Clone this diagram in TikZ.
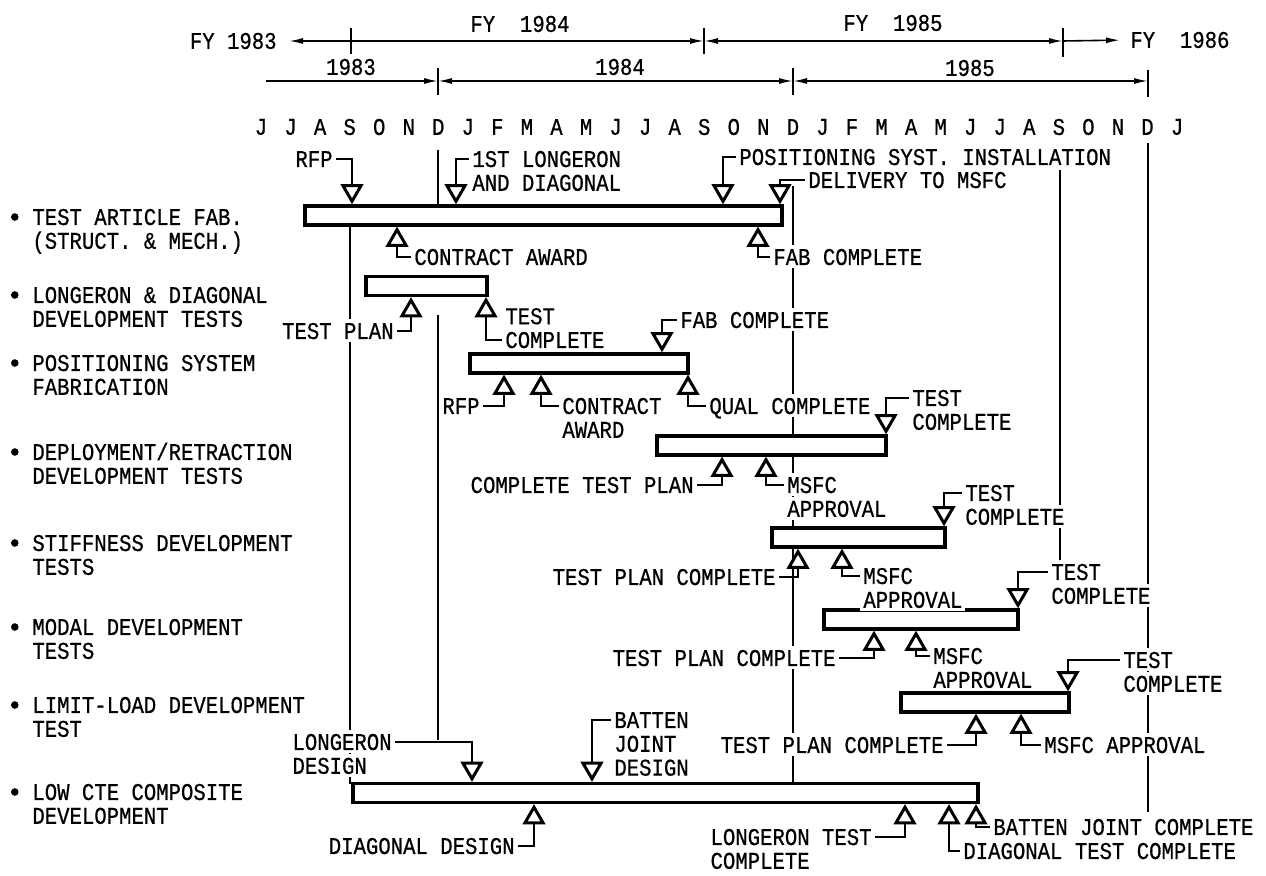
\documentclass[tikz,border=0pt]{standalone}
\usepackage{fontspec}
\setmonofont{Liberation Mono}[FakeStretch=0.86,FakeBold=0.6]
\usetikzlibrary{arrows.meta,positioning,shapes.geometric}
\colorlet{ink}{black}
\tikzset{
  >={Latex[length=7pt,width=3pt]},
  hdr/.style={draw=ink, line width=0.8pt},
  fytick/.style={draw=ink, line width=1pt},
  gridline/.style={draw=ink, line width=0.9pt},
  taskbar/.style={
    rectangle,
    draw=ink,
    fill=white,
    line width=1.7pt,
    minimum height=9.5pt,
    inner sep=0pt
  },
  msdown/.style={
    regular polygon,
    regular polygon sides=3,
    shape border rotate=180,
    draw=ink,
    fill=white,
    line width=1.5pt,
    minimum size=10.4pt,
    inner sep=0pt
  },
  msup/.style={
    regular polygon,
    regular polygon sides=3,
    draw=ink,
    fill=white,
    line width=1.5pt,
    minimum size=10.4pt,
    inner sep=0pt
  },
  leader/.style={draw=ink, line width=1.3pt},
  tag/.style={
    font=\ttfamily\fontsize{12}{13}\selectfont,
    text=ink,
    fill=white,
    inner xsep=1.5pt,
    inner ysep=1.75pt,
    text height=8pt,
    text depth=0pt
  },
  tagbelow/.style={tag, anchor=north west},
  hdrtext/.style={font=\ttfamily\fontsize{12}{13}\selectfont, text=ink, inner sep=1pt},
  bullet/.style={circle, fill=ink, inner sep=0pt, minimum size=3.8pt}
}
\frenchspacing

\begin{document}
\begin{tikzpicture}[x=0.5pt,y=-0.5pt]
  \useasboundingbox (0,0) rectangle (1266,876);

  % fiscal years
  \coordinate (fyA) at (351,41);
  \coordinate (fyB) at (704,41);
  \coordinate (fyC) at (1063,41);
  \node[hdrtext, anchor=east] (fy83) at (279,41) {FY 1983};
  \node[hdrtext] (fy84) at (520,24) {FY\ \ 1984};
  \node[hdrtext] (fy85) at (893,23) {FY\ \ 1985};
  \node[hdrtext, anchor=west] (fy86) at (1128,40) {FY\ \ 1986};
  \draw[fytick] (351,28) -- (351,54);
  \draw[fytick] (704,28) -- (704,54);
  \draw[fytick] (1063,28) -- (1063,57);
  \draw[hdr,->,shorten >=5pt] (fyA) -- (fy83.east);
  \draw[hdr,->] (fyA) -- (fyB);
  \draw[hdr,<->] (fyB) -- (fyC);
  \draw[hdr,->,shorten >=4pt] (fyC) -- (fy86.west);

  % calendar years
  \coordinate (cyS) at (266,81);
  \coordinate (cyA) at (438,81);
  \coordinate (cyB) at (793,81);
  \coordinate (cyC) at (1148,81);
  \node[hdrtext] (cy83) at (351,67) {1983};
  \node[hdrtext] (cy84) at (620,67) {1984};
  \node[hdrtext] (cy85) at (970,68) {1985};
  \draw[fytick] (438,68) -- (438,95);
  \draw[fytick] (793,68) -- (793,95);
  \draw[fytick] (1148,70) -- (1148,97);
  \draw[hdr,->] (cyS) -- (cyA);
  \draw[hdr,<->] (cyA) -- (cyB);
  \draw[hdr,<->] (cyB) -- (cyC);

  % months
  \foreach \l [count=\i from 0] in {J,J,A,S,O,N,D,J,F,M,A,M,J,J,A,S,O,N,D,J,F,M,A,M,J,J,A,S,O,N,D,J}
    \node[hdrtext] (m\i) at ({261+29.55*\i},127) {\l};

  % grid lines
  \draw[gridline] (350,225) -- (350,784);
  \draw[gridline] (438,150) -- (438,206);
  \draw[gridline] (438,315) -- (438,740);
  \draw[gridline] (793,186) -- (793,784);
  \draw[gridline] (1060,170) -- (1060,560);
  \draw[gridline] (1148,143) -- (1148,812);

  % task rows
  \node[tag, anchor=west] (rArt) at (29,217) {TEST ARTICLE FAB.};
  \node[tagbelow] (rArt2) at (rArt.south west) {(STRUCT. \& MECH.)};
  \node[tag, anchor=west] (rLdt) at (29,295) {LONGERON \& DIAGONAL};
  \node[tagbelow] (rLdt2) at (rLdt.south west) {DEVELOPMENT TESTS};
  \node[tag, anchor=west] (rPsf) at (29,363) {POSITIONING SYSTEM};
  \node[tagbelow] (rPsf2) at (rPsf.south west) {FABRICATION};
  \node[tag, anchor=west] (rDrt) at (29,452) {DEPLOYMENT/RETRACTION};
  \node[tagbelow] (rDrt2) at (rDrt.south west) {DEVELOPMENT TESTS};
  \node[tag, anchor=west] (rSdt) at (29,543) {STIFFNESS DEVELOPMENT};
  \node[tagbelow] (rSdt2) at (rSdt.south west) {TESTS};
  \node[tag, anchor=west] (rMdt) at (29,627) {MODAL DEVELOPMENT};
  \node[tagbelow] (rMdt2) at (rMdt.south west) {TESTS};
  \node[tag, anchor=west] (rLld) at (29,705) {LIMIT-LOAD DEVELOPMENT};
  \node[tagbelow] (rLld2) at (rLld.south west) {TEST};
  \node[tag, anchor=west] (rCte) at (29,792) {LOW CTE COMPOSITE};
  \node[tagbelow] (rCte2) at (rCte.south west) {DEVELOPMENT};
  \node[bullet, left=5pt of rArt] (bArt) {};
  \node[bullet, left=5pt of rLdt] (bLdt) {};
  \node[bullet, left=5pt of rPsf] (bPsf) {};
  \node[bullet, left=5pt of rDrt] (bDrt) {};
  \node[bullet, left=5pt of rSdt] (bSdt) {};
  \node[bullet, left=5pt of rMdt] (bMdt) {};
  \node[bullet, left=5pt of rLld] (bLld) {};
  \node[bullet, left=5pt of rCte] (bCte) {};

  % task bars
  \node[taskbar, minimum width=238.5pt] (art) at (543.5,215.5) {};
  \node[taskbar, minimum width=60.5pt] (ldt) at (426.5,286) {};
  \node[taskbar, minimum width=109pt] (psf) at (579,363.5) {};
  \node[taskbar, minimum width=114.5pt] (drt) at (771.5,445.5) {};
  \node[taskbar, minimum width=86.5pt] (sdt) at (858.5,537.5) {};
  \node[taskbar, minimum width=97pt] (mdt) at (921,619.5) {};
  \node[taskbar, minimum width=84pt] (lld) at (985,702.5) {};
  \node[taskbar, minimum width=312.5pt] (cte) at (665.5,793) {};

  % test article fab.
  \node[msdown, anchor=corner 1] (t1rfp) at (art.north -| 352,0) {};
  \node[msdown, anchor=corner 1] (t1lng) at (art.north -| 456,0) {};
  \node[msdown, anchor=corner 1] (t1pos) at (art.north -| 723,0) {};
  \node[msdown, anchor=corner 1] (t1del) at (art.north -| 780,0) {};
  \node[msup, anchor=corner 1] (t1con) at (art.south -| 397,0) {};
  \node[msup, anchor=corner 1] (t1fab) at (art.south -| 758,0) {};
  \node[tag, anchor=east] (rfp1) at (336,159) {RFP};
  \node[tag, anchor=west] (lng1A) at (469,159) {1ST LONGERON};
  \node[tagbelow] (lng1B) at (lng1A.south west) {AND DIAGONAL};
  \node[tag, anchor=west] (pos1) at (736,157) {POSITIONING SYST. INSTALLATION};
  \node[tag, anchor=west] (del1) at (805,180) {DELIVERY TO MSFC};
  \node[tag, anchor=west] (con1) at (411,257) {CONTRACT AWARD};
  \node[tag, anchor=west] (fab1) at (770,257) {FAB COMPLETE};
  \draw[leader] (t1rfp.north) |- (rfp1.east);
  \draw[leader] (t1lng.north) |- (lng1A.west);
  \draw[leader] (t1pos.north) |- (pos1.west);
  \draw[leader] (t1del.north) |- (del1.west);
  \draw[leader] (t1con.south) |- (con1.west);
  \draw[leader] (t1fab.south) |- (fab1.west);

  % longeron & diagonal tests
  \node[msup, anchor=corner 1] (t2tp) at (ldt.south -| 411,0) {};
  \node[msup, anchor=corner 1] (t2tc) at (ldt.south -| 486,0) {};
  \node[tag, anchor=east] (tp2) at (397,331) {TEST PLAN};
  \node[tag, anchor=west] (tc2B) at (502,340) {COMPLETE};
  \node[tag, anchor=south west] (tc2A) at (tc2B.north west) {TEST};
  \draw[leader] (t2tp.south) |- (tp2.east);
  \draw[leader] (t2tc.south) |- (tc2B.west);

  % positioning system
  \node[msdown, anchor=corner 1] (t3fab) at (psf.north -| 662,0) {};
  \node[msup, anchor=corner 1] (t3rfp) at (psf.south -| 504,0) {};
  \node[msup, anchor=corner 1] (t3con) at (psf.south -| 541,0) {};
  \node[msup, anchor=corner 1] (t3qc) at (psf.south -| 688,0) {};
  \node[tag, anchor=west] (fab3) at (677,320) {FAB COMPLETE};
  \node[tag, anchor=east] (rfp3) at (483,406) {RFP};
  \node[tag, anchor=west] (con3A) at (559,406) {CONTRACT};
  \node[tagbelow] (con3B) at (con3A.south west) {AWARD};
  \node[tag, anchor=west] (qc3) at (706,406) {QUAL COMPLETE};
  \draw[leader] (t3fab.north) |- (fab3.west);
  \draw[leader] (t3rfp.south) |- (rfp3.east);
  \draw[leader] (t3con.south) |- (con3A.west);
  \draw[leader] (t3qc.south) |- (qc3.west);

  % deployment/retraction
  \node[msdown, anchor=corner 1] (t4tc) at (drt.north -| 886,0) {};
  \node[msup, anchor=corner 1] (t4tp) at (drt.south -| 722,0) {};
  \node[msup, anchor=corner 1] (t4ms) at (drt.south -| 766,0) {};
  \node[tag, anchor=west] (tc4A) at (909,398) {TEST};
  \node[tagbelow] (tc4B) at (tc4A.south west) {COMPLETE};
  \node[tag, anchor=east] (tp4) at (697,485) {COMPLETE TEST PLAN};
  \node[tag, anchor=west] (ms4A) at (784,485) {MSFC};
  \node[tagbelow] (ms4B) at (ms4A.south west) {APPROVAL};
  \draw[leader] (t4tc.north) |- (tc4A.west);
  \draw[leader] (t4tp.south) |- (tp4.east);
  \draw[leader] (t4ms.south) |- (ms4A.west);

  % stiffness
  \node[msdown, anchor=corner 1] (t5tc) at (sdt.north -| 944,0) {};
  \node[msup, anchor=corner 1] (t5tp) at (sdt.south -| 798,0) {};
  \node[msup, anchor=corner 1] (t5ms) at (sdt.south -| 842,0) {};
  \node[tag, anchor=west] (tc5A) at (962,493) {TEST};
  \node[tagbelow] (tc5B) at (tc5A.south west) {COMPLETE};
  \node[tag, anchor=east] (tp5) at (779,577) {TEST PLAN COMPLETE};
  \node[tag, anchor=west] (ms5A) at (860,576) {MSFC};
  \node[tagbelow] (ms5B) at (ms5A.south west) {APPROVAL};
  \draw[leader] (t5tc.north) |- (tc5A.west);
  \draw[leader] (t5tp.south) |- (tp5.east);
  \draw[leader] (t5ms.south) |- (ms5A.west);

  % modal
  \node[msdown, anchor=corner 1] (t6tc) at (mdt.north -| 1018,0) {};
  \node[msup, anchor=corner 1] (t6tp) at (mdt.south -| 874,0) {};
  \node[msup, anchor=corner 1] (t6ms) at (mdt.south -| 916,0) {};
  \node[tag, anchor=west] (tc6A) at (1048,572) {TEST};
  \node[tagbelow] (tc6B) at (tc6A.south west) {COMPLETE};
  \node[tag, anchor=east] (tp6) at (839,658) {TEST PLAN COMPLETE};
  \node[tag, anchor=west] (ms6A) at (930,656) {MSFC};
  \node[tagbelow] (ms6B) at (ms6A.south west) {APPROVAL};
  \draw[leader] (t6tc.north) |- (tc6A.west);
  \draw[leader] (t6tp.south) |- (tp6.east);
  \draw[leader] (t6ms.south) |- (ms6A.west);

  % limit-load
  \node[msdown, anchor=corner 1] (t7tc) at (lld.north -| 1068,0) {};
  \node[msup, anchor=corner 1] (t7tp) at (lld.south -| 976,0) {};
  \node[msup, anchor=corner 1] (t7ms) at (lld.south -| 1021,0) {};
  \node[tag, anchor=west] (tc7A) at (1120,660) {TEST};
  \node[tagbelow] (tc7B) at (tc7A.south west) {COMPLETE};
  \node[tag, anchor=east] (tp7) at (947,745) {TEST PLAN COMPLETE};
  \node[tag, anchor=west] (ms7) at (1041,745) {MSFC APPROVAL};
  \draw[leader] (t7tc.north) |- (tc7A.west);
  \draw[leader] (t7tp.south) |- (tp7.east);
  \draw[leader] (t7ms.south) |- (ms7.west);

  % low CTE composite
  \node[msdown, anchor=corner 1] (t8ld) at (cte.north -| 472,0) {};
  \node[msdown, anchor=corner 1] (t8bj) at (cte.north -| 592,0) {};
  \node[msup, anchor=corner 1] (t8dd) at (cte.south -| 534,0) {};
  \node[msup, anchor=corner 1] (t8lt) at (cte.south -| 905,0) {};
  \node[msup, anchor=corner 1] (t8dt) at (cte.south -| 949,0) {};
  \node[msup, anchor=corner 1] (t8bc) at (cte.south -| 976,0) {};
  \node[tag, anchor=east] (ld8A) at (395,742) {LONGERON};
  \node[tagbelow] (ld8B) at (ld8A.south west) {DESIGN};
  \node[tag, anchor=west] (bj8A) at (611,720) {BATTEN};
  \node[tagbelow] (bj8B) at (bj8A.south west) {JOINT};
  \node[tagbelow] (bj8C) at (bj8B.south west) {DESIGN};
  \node[tag, anchor=east] (dd8) at (518,846) {DIAGONAL DESIGN};
  \node[tag, anchor=east] (lt8A) at (875,837) {LONGERON TEST};
  \node[tagbelow] (lt8B) at (lt8A.south west) {COMPLETE};
  \node[tag, anchor=west] (dt8) at (960,851) {DIAGONAL TEST COMPLETE};
  \node[tag, anchor=west] (bc8) at (990,827) {BATTEN JOINT COMPLETE};
  \draw[leader] (t8ld.north) |- (ld8A.east);
  \draw[leader] (t8bj.north) |- (bj8A.west);
  \draw[leader] (t8dd.south) |- (dd8.east);
  \draw[leader] (t8lt.south) |- (lt8A.east);
  \draw[leader] (t8dt.south) |- (dt8.west);
  \draw[leader] (t8bc.south) |- (bc8.west);
\end{tikzpicture}
\end{document}
